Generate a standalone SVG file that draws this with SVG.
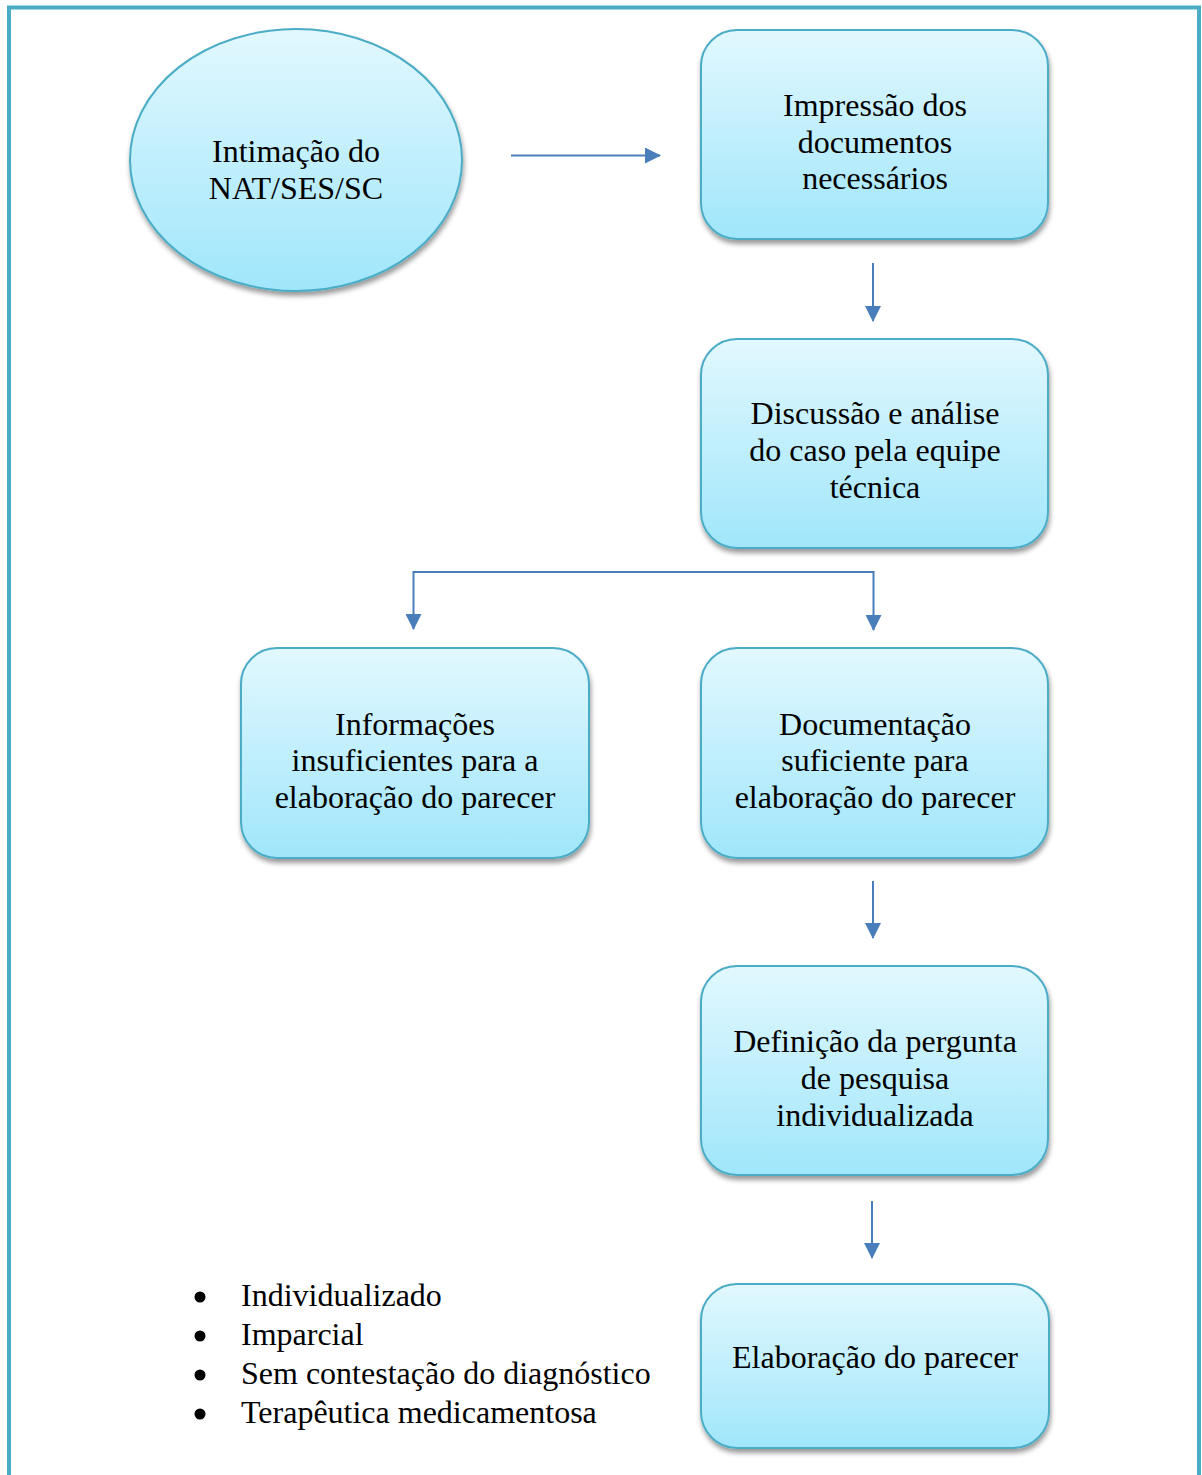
<svg xmlns="http://www.w3.org/2000/svg" width="1202" height="1475" viewBox="0 0 1202 1475">
<style>
.node{fill:url(#g);stroke:#4BACC6;stroke-width:2;filter:url(#sh)}
.t{font-family:"Liberation Serif","Times New Roman",serif;font-size:32px;fill:#000;text-anchor:middle}
.b{font-family:"Liberation Serif","Times New Roman",serif;font-size:32px;fill:#000}
.c{stroke:#4A7EBB;stroke-width:2;fill:none}
</style>
<defs>
<linearGradient id="g" x1="0" y1="0" x2="0" y2="1">
<stop offset="0" stop-color="#E2F8FE"/>
<stop offset="1" stop-color="#A0E6FB"/>
</linearGradient>
<filter id="sh" x="-10%" y="-10%" width="120%" height="130%">
<feDropShadow dx="1" dy="4" stdDeviation="2.5" flood-color="#000" flood-opacity="0.4"/>
</filter>
<marker id="ah" viewBox="0 0 16 16" refX="15" refY="8" markerWidth="16" markerHeight="16" markerUnits="userSpaceOnUse" orient="auto">
<path d="M0,0 L16,8 L0,16 Z" fill="#4A7EBB"/>
</marker>
</defs>
<rect x="9" y="7.5" width="1190" height="1490" fill="#fff" stroke="#4BACC6" stroke-width="4"/>
<g id="connectors">
<line class="c" x1="511" y1="155.5" x2="660" y2="155.5" marker-end="url(#ah)"/>
<line class="c" x1="873" y1="263" x2="873" y2="321" marker-end="url(#ah)"/>
<polyline class="c" points="413.5,572 873.5,572 873.5,630" marker-end="url(#ah)"/>
<line class="c" x1="413.5" y1="571" x2="413.5" y2="629" marker-end="url(#ah)"/>
<line class="c" x1="873" y1="881" x2="873" y2="938" marker-end="url(#ah)"/>
<line class="c" x1="872" y1="1201" x2="872" y2="1258" marker-end="url(#ah)"/>
</g>
<g id="n1">
<ellipse class="node" cx="296" cy="160" rx="166" ry="131"/>
<text class="t" x="296" y="161.5">Intimação do</text>
<text class="t" x="296" y="198.5">NAT/SES/SC</text>
</g>
<g id="n2">
<rect class="node" x="701" y="30" width="347" height="209" rx="36"/>
<text class="t" x="875" y="116">Impressão dos</text>
<text class="t" x="875" y="152.5">documentos</text>
<text class="t" x="875" y="189">necessários</text>
</g>
<g id="n3">
<rect class="node" x="701" y="339" width="347" height="209" rx="36"/>
<text class="t" x="875" y="423.5">Discussão e análise</text>
<text class="t" x="875" y="460.5">do caso pela equipe</text>
<text class="t" x="875" y="497.5">técnica</text>
</g>
<g id="n4">
<rect class="node" x="241" y="648" width="348" height="210" rx="36"/>
<text class="t" x="415" y="734.5">Informações</text>
<text class="t" x="415" y="771">insuficientes para a</text>
<text class="t" x="415" y="807.5">elaboração do parecer</text>
</g>
<g id="n5">
<rect class="node" x="701" y="648" width="347" height="210" rx="36"/>
<text class="t" x="875" y="734.5">Documentação</text>
<text class="t" x="875" y="771">suficiente para</text>
<text class="t" x="875" y="807.5">elaboração do parecer</text>
</g>
<g id="n6">
<rect class="node" x="701" y="966" width="347" height="209" rx="36"/>
<text class="t" x="875" y="1051.5">Definição da pergunta</text>
<text class="t" x="875" y="1088.5">de pesquisa</text>
<text class="t" x="875" y="1125.5">individualizada</text>
</g>
<g id="n7">
<rect class="node" x="701" y="1284" width="348" height="164" rx="36"/>
<text class="t" x="875" y="1368">Elaboração do parecer</text>
</g>
<g id="list">
<circle cx="200" cy="1297" r="5.5" fill="#000"/>
<circle cx="200" cy="1336" r="5.5" fill="#000"/>
<circle cx="200" cy="1375" r="5.5" fill="#000"/>
<circle cx="200" cy="1414" r="5.5" fill="#000"/>
<text class="b" x="241" y="1305.5">Individualizado</text>
<text class="b" x="241" y="1344.5">Imparcial</text>
<text class="b" x="241" y="1383.5">Sem contestação do diagnóstico</text>
<text class="b" x="241" y="1422.5">Terapêutica medicamentosa</text>
</g>
</svg>
